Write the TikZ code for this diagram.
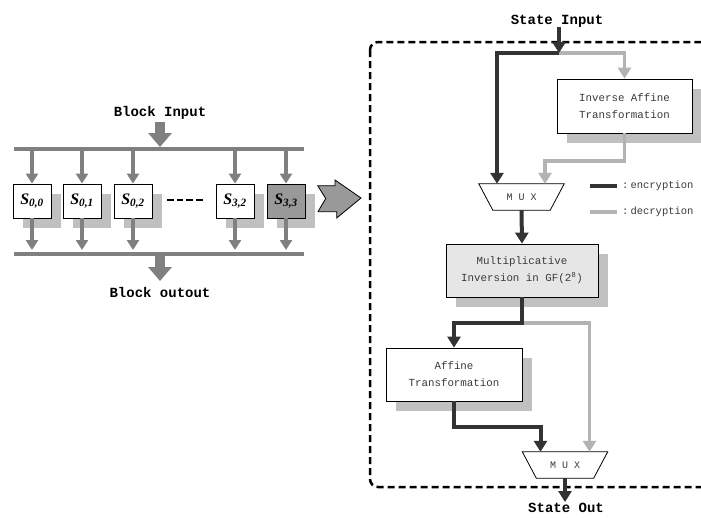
\documentclass[tikz,border=0pt]{standalone}
\usepackage{fontspec}
\newfontfamily\monof{Liberation Mono}
\newfontfamily\serf{Liberation Serif}
\usetikzlibrary{arrows.meta,shadows}
\definecolor{encc}{HTML}{333333}
\definecolor{decc}{HTML}{B3B3B3}
\definecolor{busc}{HTML}{808080}
\definecolor{shc}{HTML}{C0C0C0}
\definecolor{s33c}{HTML}{999999}
\definecolor{mulc}{HTML}{E6E6E6}
\definecolor{txtc}{HTML}{3A3A3A}
\tikzset{
  lab/.style={font=\monof\bfseries\fontsize{14}{16}\selectfont, inner sep=0pt},
  smalltxt/.style={font=\monof\fontsize{10.5}{17}\selectfont, text=txtc},
  sbox/.style={draw, line width=0.8pt, fill=white, minimum width=38pt, minimum height=34pt, inner sep=0pt,
    font=\serf\bfseries\itshape\fontsize{16}{18}\selectfont,
    drop shadow={shadow xshift=10pt, shadow yshift=-10pt, fill=shc, opacity=1}},
  blk/.style={draw, line width=0.8pt, fill=white, inner sep=0pt, align=center,
    font=\monof\fontsize{10.8}{17}\selectfont, text=txtc,
    drop shadow={shadow xshift=10pt, shadow yshift=-10pt, fill=shc, opacity=1}},
  muxbox/.style={minimum width=85pt, minimum height=26pt, inner sep=0pt,
    font=\monof\fontsize{10}{11}\selectfont, text=txtc},
  enc/.style={draw=encc, line width=4pt},
  dec/.style={draw=decc, line width=3.5pt},
  arr/.style={-{Triangle[width=13pt,length=11pt]}},
  bus/.style={draw=busc, line width=3.5pt},
  sarr/.style={draw=busc, line width=3.5pt, -{Triangle[width=12pt,length=10pt]}},
  bigarr/.style={draw=busc, line width=10pt, -{Triangle[width=23pt,length=14pt]}},
}
\newcommand{\muxdraw}[1]{\draw[line width=0.8pt] (#1.north west) -- (#1.north east) -- ([xshift=-14pt]#1.south east) -- ([xshift=14pt]#1.south west) -- cycle;}
\begin{document}
\begin{tikzpicture}[x=1pt,y=-1pt]
\useasboundingbox (0,0) rectangle (701,517);
\clip (0,0) rectangle (701,517);

% ---------------- left part ----------------
\node[lab] (bin) at (160,113) {Block Input};
\coordinate (bt1) at (14,149);
\coordinate (bt2) at (304,149);
\coordinate (bb1) at (14,254);
\coordinate (bb2) at (304,254);
\coordinate (bbtip) at (0,250);
\draw[bigarr] (160,122) -- (160,147);

\node[sbox] (s00) at (32,201) {S\textsubscript{0,0}};
\node[sbox] (s01) at (82,201) {S\textsubscript{0,1}};
\node[sbox] (s02) at (133,201) {S\textsubscript{0,2}};
\node[sbox] (s32) at (235,201) {S\textsubscript{3,2}};
\node[sbox, fill=s33c] (s33) at (286,201) {S\textsubscript{3,3}};

\draw[bus] (bt1) -- (bt2);
\draw[bus] (bb1) -- (bb2);
\foreach \s in {s00,s01,s02,s32,s33}{
  \draw[sarr] (\s.north |- bt1) -- (\s.north);
  \draw[sarr] (\s.south) -- (\s.south |- bbtip);
}
\draw[line width=2.8pt, dash pattern=on 6.5pt off 3.2pt] (167,200) -- (203,200);

\node[lab] (bout) at (160,292) {Block outout};
\draw[bigarr] (160,255) -- (160,281);

% chevron
\draw[fill=s33c, line width=0.8pt, line join=miter]
  (317.7,185.7) -- (335,185.7) -- (335,180) -- (361,198) -- (336.7,218) -- (336.7,211.7) -- (318,211.7) -- (325.7,198.5) -- cycle;

% ---------------- right part ----------------
\draw[line width=2.5pt, dash pattern=on 7pt off 4pt, rounded corners=8pt] (370,42) rectangle (760,487);

\node[lab] (sin) at (557,21) {State Input};
\node[blk, minimum width=135pt, minimum height=54pt] (iat) at (624.5,106) {Inverse Affine\\Transformation};
\node[muxbox] (mux1) at (521.5,197) {M U X};
\muxdraw{mux1}
\node[blk, fill=mulc, minimum width=152pt, minimum height=53pt] (mul) at (522,270.5) {Multiplicative\\Inversion in GF(2\textsuperscript{8})};
\node[blk, minimum width=136pt, minimum height=53pt] (aff) at (454,374.5) {Affine\\Transformation};
\node[muxbox] (mux2) at (565,465) {M U X};
\muxdraw{mux2}
\node[lab] (sout) at (566,508) {State Out};

\coordinate (j1) at (559,53);
\coordinate (g1) at (624.5,161);
\coordinate (j2) at (522,323);
\coordinate (j3) at (454,427);

\draw[dec, arr] (j1) -| (iat.north);
\draw[dec, arr] (iat.south) -- (g1) -| ([xshift=23.5pt]mux1.north);
\draw[enc, arr] (j1) -| ([xshift=-24.5pt]mux1.north);
\draw[enc, arr] (sin.south -| j1) -- (j1);
\draw[enc, arr] (mux1.south) -- (mul.north);
\draw[dec, arr] (j2) -| ([xshift=24.5pt]mux2.north);
\draw[enc, arr] (mul.south) -- (j2) -| (aff.north);
\draw[enc, arr] (aff.south) -- (j3) -| ([xshift=-24.5pt]mux2.north);
\draw[enc, arr] (mux2.south) -- ([yshift=1pt]mux2.south |- sout.north);

% legend
\coordinate (le1) at (590,186);
\coordinate (le2) at (617,186);
\coordinate (ld1) at (590,212);
\coordinate (ld2) at (617,212);
\draw[enc] (le1) -- (le2);
\draw[dec] (ld1) -- (ld2);
\node[smalltxt, anchor=west, inner sep=0pt] (lenc) at (622,186) {:\kern2pt encryption};
\node[smalltxt, anchor=west, inner sep=0pt] (ldec) at (622,212) {:\kern2pt decryption};
\end{tikzpicture}
\end{document}
